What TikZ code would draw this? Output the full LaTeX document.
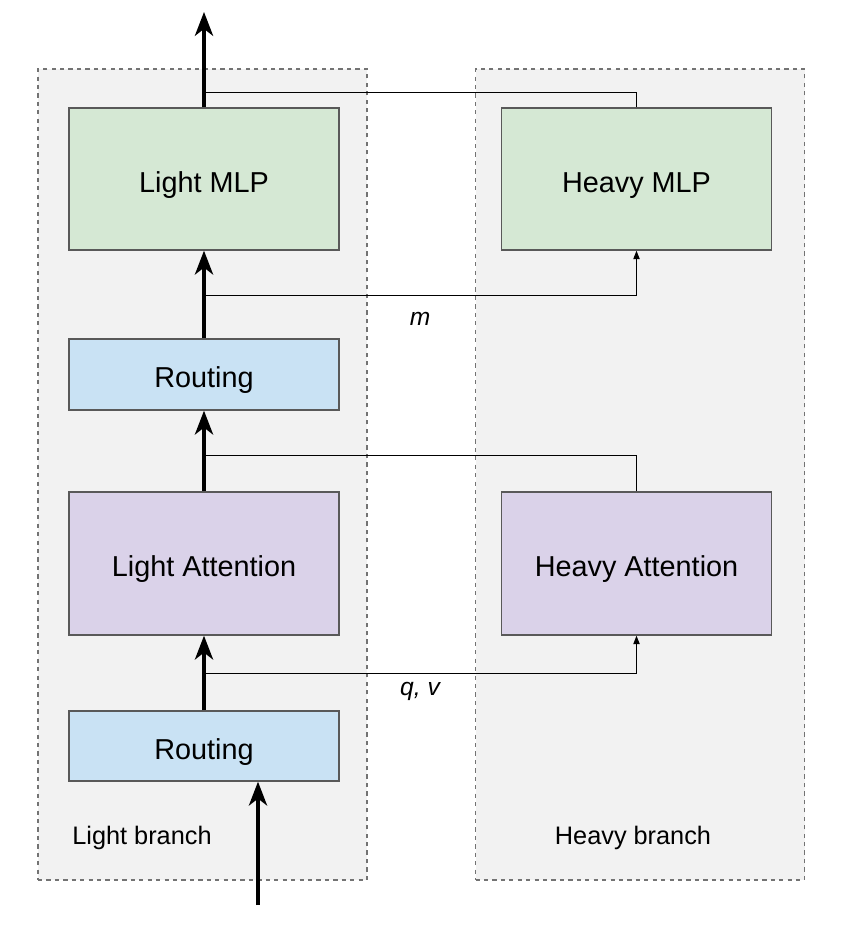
\documentclass[tikz,border=0pt]{standalone}
\usepackage{fontspec}
\setmainfont{Liberation Sans}
\usetikzlibrary{arrows.meta}
\definecolor{mlpgreen}{HTML}{D5E8D4}
\definecolor{routeblue}{HTML}{C9E2F4}
\definecolor{attpurple}{HTML}{DAD2E9}
\definecolor{panelgray}{HTML}{F2F2F2}
\begin{document}
\begin{tikzpicture}[x=0.025cm, y=-0.025cm,
	block/.style={draw=black!65, line width=1pt, rectangle, minimum width=270*0.025cm, text height=19pt, text depth=0pt, font=\fontsize{20.5}{24}\selectfont},
	panel/.style={draw=black!55, dashed, line width=0.8pt, fill=panelgray, rectangle, minimum width=329*0.025cm, minimum height=811*0.025cm},
	main/.style={line width=2.2pt, -{Stealth[length=17pt, width=13pt, inset=5pt]}},
	side/.style={line width=0.7pt},
	sidearrow/.style={line width=0.7pt, -{Triangle[length=6pt, width=4.5pt]}},
	lbl/.style={font=\fontsize{18}{22}\selectfont}]
	\useasboundingbox (0,0) rectangle (846,926);

	\node [panel] (lightpanel) at (202.5,474.5) {};
	\node [panel] (heavypanel) at (640,474.5) {};
	\node [lbl] (lightlbl) at (142,838) {Light branch};
	\node [lbl] (heavylbl) at (633,838) {Heavy branch};

	\node [block, fill=mlpgreen, minimum height=142*0.025cm] (lmlp) at (204,179) {Light MLP};
	\node [block, fill=mlpgreen, minimum height=142*0.025cm] (hmlp) at (636.5,179) {Heavy MLP};
	\node [block, fill=routeblue, minimum height=71*0.025cm] (rout2) at (204,374.5) {Routing};
	\node [block, fill=attpurple, minimum height=143*0.025cm] (latt) at (204,563.5) {Light Attention};
	\node [block, fill=attpurple, minimum height=143*0.025cm] (hatt) at (636.5,563.5) {Heavy Attention};
	\node [block, fill=routeblue, minimum height=70*0.025cm] (rout1) at (204,746) {Routing};

	\coordinate (in) at (258,905);
	\coordinate (out) at (204,12);
	\coordinate (qv) at (204,673);
	\coordinate (attjoin) at (204,455);
	\coordinate (msplit) at (204,295);
	\coordinate (mlpjoin) at (204,92);

	\draw [main] (in) -- (in |- rout1.south);
	\draw [main] (rout1) -- (latt);
	\draw [sidearrow] (qv) -| (hatt.south);
	\node [lbl, font=\fontsize{17.5}{21}\selectfont\itshape] (qvlbl) at (420,691) {q, v};
	\draw [main] (latt) -- (rout2);
	\draw [side] (hatt.north) |- (attjoin);
	\draw [main] (rout2) -- (lmlp);
	\draw [sidearrow] (msplit) -| (hmlp.south);
	\node [lbl, font=\fontsize{17.5}{21}\selectfont\itshape] (mlbl) at (420,319) {m};
	\draw [main] (lmlp) -- (out);
	\draw [side] (hmlp.north) |- (mlpjoin);
\end{tikzpicture}
\end{document}
